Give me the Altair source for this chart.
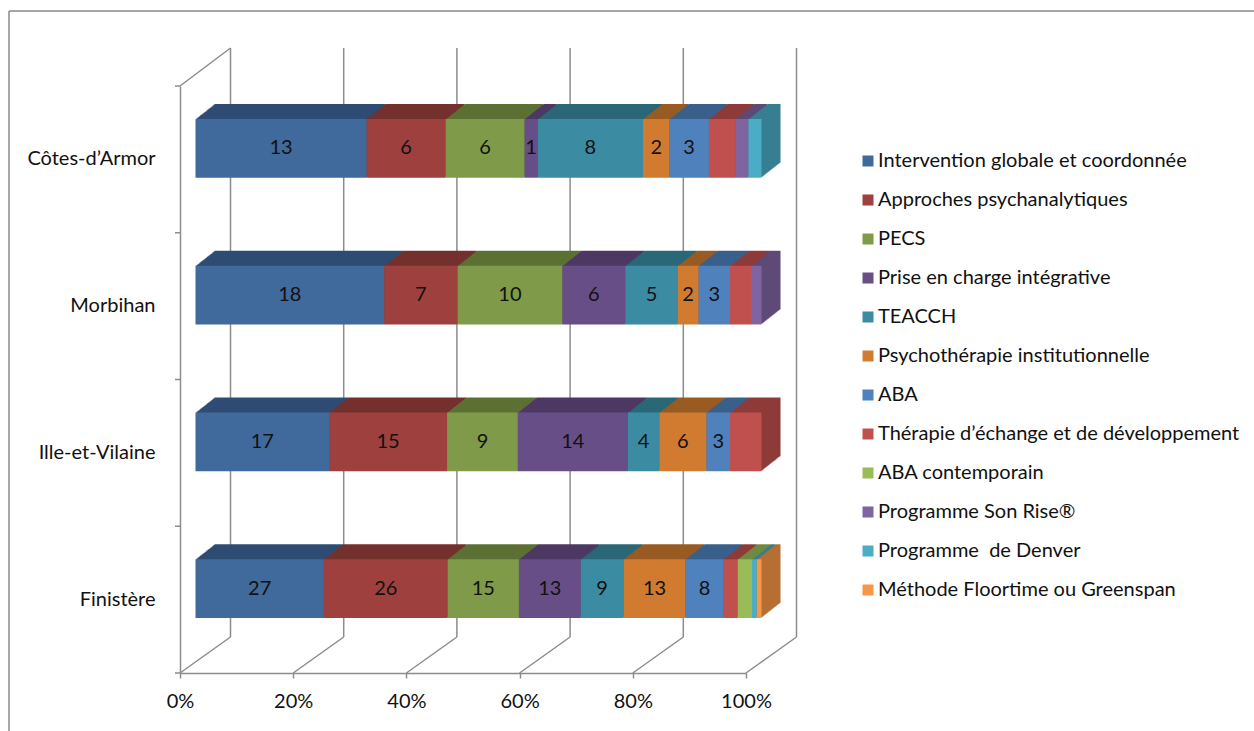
import altair as alt
import pandas as pd

# ---------------- data ----------------
departements = ["Côtes-d’Armor", "Morbihan", "Ille-et-Vilaine", "Finistère"]
methodes = [
    "Intervention globale et coordonnée",
    "Approches psychanalytiques",
    "PECS",
    "Prise en charge intégrative",
    "TEACCH",
    "Psychothérapie institutionnelle",
    "ABA",
    "Thérapie d’échange et de développement",
    "ABA contemporain",
    "Programme Son Rise®",
    "Programme \u00a0de Denver",
    "Méthode Floortime ou Greenspan",
]
cotes_darmor = [13, 6, 6, 1, 8, 2, 3, 2, 0, 1, 1, 0]
morbihan = [18, 7, 10, 6, 5, 2, 3, 2, 0, 1, 0, 0]
ille_et_vilaine = [17, 15, 9, 14, 4, 6, 3, 4, 0, 0, 0, 0]
finistere = [27, 26, 15, 13, 9, 13, 8, 3, 3, 0, 1, 1]
x_ticks = [0, 0.2, 0.4, 0.6, 0.8, 1.0]

# ---------------- styles ----------------
couleurs = ["#40699c", "#9e413e", "#7f9a48", "#684e87", "#3b8ca2", "#d07b30",
            "#4f81bd", "#c0504d", "#9bbb59", "#8064a2", "#4bacc6", "#f79646"]
N_LABELLED = 7
W, H = 566, 587
PAD = {"left": 180, "top": 86, "right": 1254 - 180 - W, "bottom": 731 - 86 - H}
FRONT_DX, FRONT_DY = 15.5, -11
DEPTH_DX, DEPTH_DY = 19, -15
N_LAYERS = 19
WALL_DX, WALL_DY = 50.5, -36
WALL_TOP = -38
LINE = "#8c8c8c"
FONT = "Lato"
FS = 20
TXT = "#111111"


def darker(hexcol, f=0.74):
    h = hexcol.lstrip("#")
    r, g, b = (int(h[i:i + 2], 16) for i in (0, 2, 4))
    return "#%02x%02x%02x" % (int(r * f), int(g * f), int(b * f))


rows = []
for dep, vals in zip(departements, [cotes_darmor, morbihan, ille_et_vilaine, finistere]):
    total = sum(vals)
    cum = 0
    for i, (m, v) in enumerate(zip(methodes, vals)):
        if v == 0:
            continue
        start = cum / total
        cum += v
        end = cum / total
        rows.append(dict(dep=dep, methode=m, idx=i, value=v, start=start, end=end,
                         mid=(start + end) / 2, dark=darker(couleurs[i]),
                         label=str(v) if i < N_LABELLED else ""))
df = pd.DataFrame(rows)
ticks_df = pd.DataFrame({"t": x_ticks})
corner_df = pd.DataFrame({"t": [0.0]})
one_df = pd.DataFrame({"a": [0]})

x_scale = alt.Scale(domain=[0, 1], nice=False, zero=True)
y_scale = alt.Scale(domain=departements, paddingInner=0.6, paddingOuter=0.3)
x_axis = alt.Axis(title=None, values=x_ticks, format=".0%", grid=False,
                  domainColor=LINE, domainWidth=1.5, tickColor=LINE, tickWidth=1.5,
                  tickSize=5, labelPadding=13, labelFontSize=FS, labelFont=FONT,
                  labelColor=TXT, labelFlush=False)
y_axis = alt.Axis(title=None, grid=False, ticks=False, domainColor=LINE,
                  domainWidth=1.5, labelPadding=25, labelFontSize=FS, labelFont=FONT,
                  labelColor=TXT)


def xq(field):
    return alt.X(field, type="quantitative", scale=x_scale, axis=x_axis)


def yn():
    return alt.Y("dep:N", scale=y_scale, sort=departements, axis=y_axis)


layers = []

# outer frame (decoration)
layers.append(alt.Chart(one_df).mark_rule(color="#8a8a8a", strokeWidth=1.5).encode(
    x=alt.value(-171), x2=alt.value(1254), y=alt.value(-75), y2=alt.value(-75)))
layers.append(alt.Chart(one_df).mark_rule(color="#8a8a8a", strokeWidth=1.5).encode(
    x=alt.value(-171), x2=alt.value(-171), y=alt.value(-75), y2=alt.value(800)))

# back wall gridlines
layers.append(alt.Chart(ticks_df).mark_rule(color=LINE, strokeWidth=1.5, xOffset=WALL_DX).encode(
    x=xq("t"), y=alt.value(WALL_TOP), y2=alt.value(H + WALL_DY)))
# floor diagonals
layers.append(alt.Chart(ticks_df).mark_rule(color=LINE, strokeWidth=1.5, x2Offset=WALL_DX).encode(
    x=xq("t"), x2=alt.X2("t"), y=alt.value(H), y2=alt.value(H + WALL_DY)))
# left wall top diagonal
layers.append(alt.Chart(corner_df).mark_rule(color=LINE, strokeWidth=1.5, x2Offset=WALL_DX).encode(
    x=xq("t"), x2=alt.X2("t"), y=alt.value(0), y2=alt.value(WALL_TOP)))
# left wall ticks at category boundaries
for k in range(len(departements) + 1):
    yk = H * k / len(departements)
    layers.append(alt.Chart(one_df).mark_rule(color=LINE, strokeWidth=1.5).encode(
        x=alt.value(-5), x2=alt.value(0), y=alt.value(yk), y2=alt.value(yk)))

# extrusion (depth) of bars
for k in range(N_LAYERS, 0, -1):
    dx = FRONT_DX + DEPTH_DX * k / N_LAYERS
    dy = FRONT_DY + DEPTH_DY * k / N_LAYERS
    layers.append(alt.Chart(df).mark_bar(xOffset=dx, x2Offset=dx, yOffset=dy, y2Offset=dy,
                                         strokeWidth=0).encode(
        x=xq("start"), x2=alt.X2("end"), y=yn(),
        fill=alt.Fill("dark:N", scale=None, legend=None)))

# front faces
layers.append(alt.Chart(df).mark_bar(xOffset=FRONT_DX, x2Offset=FRONT_DX, yOffset=FRONT_DY,
                                     y2Offset=FRONT_DY, strokeWidth=0).encode(
    x=xq("start"), x2=alt.X2("end"), y=yn(),
    color=alt.Color("methode:N", scale=alt.Scale(domain=methodes, range=couleurs),
                    legend=alt.Legend(title=None, orient="none", legendX=678, legendY=65,
                                      symbolType="square", symbolSize=121,
                                      symbolStrokeWidth=0, labelFontSize=FS,
                                      labelFont=FONT, labelColor=TXT,
                                      labelLimit=500, rowPadding=19, labelOffset=0,
                                      padding=0))))

# value labels
layers.append(alt.Chart(df).mark_text(xOffset=FRONT_DX, yOffset=FRONT_DY, fontSize=FS,
                                      font=FONT, color=TXT).encode(
    x=xq("mid"), y=yn(), text="label:N"))

chart = alt.layer(*layers).properties(
    width=W, height=H, padding=PAD, autosize=alt.AutoSizeParams(type="none"),
    background="white"
).configure_view(stroke=None)

chart.save("out.html", embed_options={"renderer": "svg", "actions": False})
